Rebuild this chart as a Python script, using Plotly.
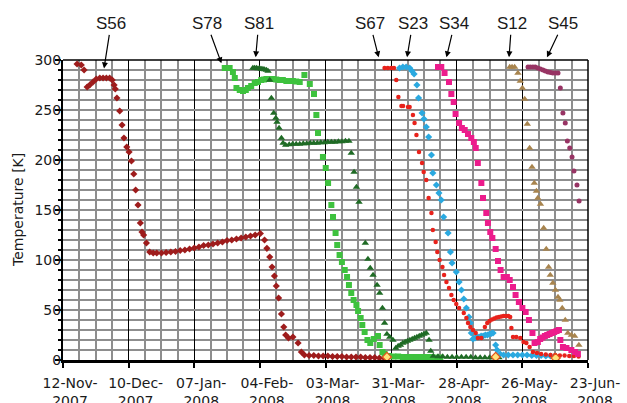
import pandas as pd
import plotly.graph_objects as go

BASE = pd.Timestamp("2007-11-12")

# ---- data: day offsets from 12-Nov-2007 and temperatures [K] ----
s56_days = [6, 7.8, 9, 10.3, 11.4, 12.8, 14.2, 15.7, 17.1, 18.5,
            19.9, 21, 21.8, 22.3, 23, 24.2, 25.2, 26, 27.2, 28.2,
            29.2, 30.2, 31, 32, 33, 33.7, 34.4, 35.6, 37, 38.5,
            40, 42, 44, 46, 48, 50, 52, 54, 56, 58,
            60, 62, 64, 66, 68, 70, 72, 74, 76, 78,
            80, 82, 84.2, 86, 87, 88.2, 89.2, 90.2, 91, 92,
            93.2, 94.2, 95, 96.2, 98.1, 100.3, 101.7, 103, 105, 107,
            109, 111, 113, 115, 117, 119, 121, 123, 125, 127,
            129, 131, 133, 135, 137]
s56_temp = [296, 295, 290, 273, 275, 278, 281, 282, 282, 282,
            282, 280, 275, 271, 262, 249, 235, 222, 213, 208,
            199, 186, 170, 155, 137, 128, 125, 117, 108, 107,
            107, 107, 107.5, 108, 108.5, 109.5, 110, 111, 112, 113,
            114.5, 115, 116, 117, 118, 119.5, 120, 121, 122, 123,
            124, 125, 126.5, 120, 111.7, 103, 93, 84, 74, 62,
            46, 33, 25, 22, 23, 17, 8, 5, 4.5, 4.5,
            4, 4, 4, 3.5, 3.5, 3.5, 3, 3, 3, 3,
            2.5, 2.5, 2.5, 2, 2]

s78_days = [69, 70, 71.1, 72.5, 73.3, 74, 75.4, 76.8, 78, 78.9,
            80.3, 81.8, 83.2, 84.6, 85.7, 86.8, 88.2, 89.6, 91, 92.4,
            93.8, 95.3, 96.7, 98.1, 99.5, 101, 103, 105.3, 107.1, 108.1,
            108.8, 110.9, 112.1, 113.1, 114.5, 115.2, 116.3, 117, 118, 119,
            120.2, 121.2, 122, 123, 124, 125.2, 125.9, 127, 127.7, 128.7,
            129.9, 131.1, 132.6, 134.4, 135.1, 136.3, 137.2, 139, 141, 143,
            145, 147, 149, 151, 153, 155, 157, 159, 161]
s78_temp = [292, 292, 292, 288, 282, 272, 270, 269, 270, 272,
            274, 277, 278, 280, 280.5, 281, 281, 281, 280.5, 280,
            280, 279, 279, 279, 278.5, 278, 285, 276, 266, 245,
            227, 203, 192, 177, 155, 143, 127, 115, 105, 98,
            90, 83, 75, 67, 60, 55, 49, 42, 35, 28,
            20, 17, 21, 24, 15, 8, 6, 4, 3.5, 3.5,
            3, 3, 3, 3, 3, 3, 3, 2.5, 2.5]

s81_days = [81, 81.7, 82.5, 83.2, 83.9, 84.6, 85.3, 86, 86.8, 87.5,
            88.2, 88.9, 89.9, 90.8, 91.3, 92.2, 93.2, 93.9, 95, 96.5,
            98, 99.5, 101, 102.5, 104, 105.5, 107, 108.5, 110, 111.5,
            113, 114.5, 116, 117.5, 119, 120.5, 122, 123, 124.2, 125.2,
            126.3, 129, 130.1, 131.1, 132.3, 134, 135.1, 136.3, 137.2, 138.2,
            139.4, 140.8, 142, 143, 144, 145, 146, 147, 148, 149,
            150, 151, 152, 153, 154, 155, 156.2, 156.9, 158, 160,
            162, 164, 166, 168, 170, 172, 174, 176, 178, 180,
            182, 184, 186]
s81_temp = [292, 292, 292, 291.5, 291.7, 291, 291, 290.5, 290, 289,
            280, 262, 247, 242, 238, 232, 222, 217, 215, 215.5,
            216, 216, 216, 216.5, 216.5, 217, 217, 217, 217.5, 217.5,
            218, 218, 218, 218.5, 218.5, 219, 219, 207, 188, 173,
            158, 117, 101, 92, 85, 75, 67, 52, 37, 26,
            23, 20, 12, 14, 15, 17, 18, 19, 20, 21,
            22, 23, 24, 25, 26, 27, 20, 9, 4, 3.5,
            3.5, 3, 3, 3, 3, 3, 3, 2.5, 2.5, 2.5,
            2.5, 2.5, 2.5]

s67_days = [137.2, 138.6, 140, 141.2, 142.2, 143.1, 144.4, 145.1, 147.2, 147.9,
            149.3, 150, 150.8, 151.9, 153.2, 153.9, 155, 156, 157.2, 157.8,
            159, 159.7, 160.7, 161.9, 162.6, 163.6, 164.7, 165.7, 166.7, 167.8,
            169, 171, 172.1, 172.8, 173.8, 174.9, 176.1, 177, 178.5, 180,
            181, 182, 183, 184, 185, 186, 187, 188, 189, 190,
            190.8, 191.3, 192, 193.4, 195.1, 196.5, 197.7, 199.1, 200.5, 202.2,
            204, 206, 208, 210, 212, 214, 216, 218, 220]
s67_temp = [292, 292, 292, 292, 280, 263, 254, 254, 253, 253,
            245, 237, 225, 208, 197, 188, 180, 162, 147, 130,
            118, 108, 100, 93, 85, 78, 72, 65, 60, 56,
            52, 47, 42, 37, 33, 30, 27, 22, 22, 33,
            37, 39, 40.5, 41.5, 42.5, 43, 43.5, 44, 44, 44,
            43, 32, 23, 23, 22, 18, 17, 13, 8, 7,
            6, 5.5, 5, 5, 4.5, 4.5, 4, 4, 3.5]

s23_days = [143.6, 145, 146.4, 147.9, 148.9, 149.8, 151, 151.7, 153.2, 154,
            155, 156, 157.2, 157.8, 159.3, 160.4, 161.4, 162.4, 164.3, 165.3,
            166, 167.8, 169, 170, 171, 172.1, 173.2, 173.8, 174.2, 174.9,
            175.8, 176.6, 177.5, 178.4, 179.3, 180.2, 181.1, 182, 182.8, 183.5,
            184.6, 185.2, 186.5, 188, 190, 192, 194, 196, 198, 200,
            202, 204, 206, 208, 210]
s23_temp = [292, 293, 293, 292, 289, 286, 275, 262, 247, 241,
            233, 223, 205, 187, 175, 167, 160, 143, 127, 108,
            97, 88, 78, 70, 61, 52, 43, 37, 27, 21,
            22, 23, 23, 24, 24, 25, 25, 26, 26.5, 27,
            15, 10, 6, 5, 5, 5, 5, 5, 5, 4.5,
            4.5, 4.5, 4, 4, 4]

s34_days = [160, 161.4, 162.8, 164.7, 165.7, 166.7, 167.5, 169, 170.2, 171.4,
            172.8, 174.2, 175.3, 176.1, 177, 178.5, 179.2, 180.6, 181.3, 182.3,
            183.2, 184.6, 185.6, 186.7, 188, 189.4, 190.6, 192, 193.1, 194.5,
            196, 197.4, 198.8, 200.3, 201.2, 202.6, 203.6, 204.6, 205.6, 206.6,
            207.6, 208.6, 209.6, 210.6, 211.6, 212.2, 213.3, 214.8, 216.9, 218.5,
            219.7]
s34_temp = [293, 293, 287, 278, 266, 258, 246, 237, 232, 230,
            226, 222, 218, 212, 197, 177, 162, 147, 137, 128,
            122, 111, 99, 90, 83, 83, 80, 73, 65, 58,
            52, 48, 40, 27, 17, 18, 21, 22.5, 24, 25,
            26, 27, 28, 29, 30, 20, 13, 12, 10, 8,
            6]

s12_days = [190.6, 191.6, 192.7, 194.1, 195.1, 196, 197, 198.1, 199.1, 200.1,
            201.1, 202, 202.6, 203.7, 205.1, 206.2, 207.2, 207.9, 209, 210.1,
            211.2, 212, 213, 214.3, 215.4, 216.9, 218.3, 220.1]
s12_temp = [293, 293, 293, 287, 279, 272, 261, 236, 212, 193,
            177, 169, 162, 156, 132, 111, 93, 85, 77, 70,
            63, 60, 52, 40, 27, 25, 24, 15]

s45_days = [198.4, 199.4, 200.5, 201.5, 202.6, 203.7, 204.8, 205.8, 206.9, 208,
            209, 210.1, 211.2, 212.2, 213.3, 214.3, 215.2, 216.2, 217.2, 218,
            219.3, 220.2]
s45_temp = [293, 293, 293, 293, 292, 291, 290, 289, 288, 287.5,
            287, 287, 287, 272, 247, 237, 219, 212, 203, 189,
            175, 159]

mark_days = [138.2, 184.6, 210.2]
mark_temp = [3, 3, 2]

label_names = ["S56", "S78", "S81", "S67", "S23", "S34", "S12", "S45"]
label_days = [17.5, 67.6, 82.2, 134.7, 146.8, 163.6, 190.3, 206.5]

x_start, x_end = "2007-11-12", "2008-06-23"


def to_dates(days):
    return [BASE + pd.Timedelta(days=float(d)) for d in days]


series = [
    ("S56", s56_days, s56_temp, "diamond", 5.5, "#9E1C1C"),
    ("S78", s78_days, s78_temp, "square", 6, "#3EC23E"),
    ("S81", s81_days, s81_temp, "triangle-up", 6.5, "#1F6B25"),
    ("S23", s23_days, s23_temp, "diamond", 5.5, "#2AA9E0"),
    ("S67", s67_days, s67_temp, "circle", 4.5, "#E8221B"),
    ("S34", s34_days, s34_temp, "square", 6, "#EC1C8C"),
    ("S12", s12_days, s12_temp, "triangle-up", 6.5, "#A8844E"),
    ("S45", s45_days, s45_temp, "circle", 5, "#983464"),
]

fig = go.Figure()
for name, d, t, sym, size, col in series:
    fig.add_trace(go.Scatter(
        x=to_dates(d), y=t, mode="markers", name=name,
        marker=dict(symbol=sym, size=size, color=col, line=dict(width=0)),
        showlegend=False))

fig.add_trace(go.Scatter(
    x=to_dates(mark_days), y=mark_temp, mode="markers", showlegend=False,
    marker=dict(symbol="diamond", size=7, color="#FFE27A",
                line=dict(width=1.2, color="#E2541C"))))

day_ms = 86400000
fig.update_xaxes(
    type="date", range=[x_start, x_end], automargin=False,
    tickmode="linear", tick0=x_start, dtick=28 * day_ms,
    tickformat="%d-%b-<br>%Y",
    ticks="outside", ticklen=5, tickwidth=2, tickcolor="black",
    showline=True, linewidth=3, linecolor="black",
    showgrid=True, gridcolor="black", gridwidth=1.3,
    minor=dict(tick0=x_start, dtick=7 * day_ms, showgrid=True,
               gridcolor="#8E8E8E", gridwidth=1.5),
    tickfont=dict(family="DejaVu Sans", size=14, color="#1a1a1a"),
    ticklabelshift=7, ticklabelstandoff=3,
    zeroline=False,
)
fig.update_yaxes(
    range=[0, 300], automargin=False,
    tickmode="linear", tick0=0, dtick=50,
    ticks="outside", ticklen=6, tickwidth=2, tickcolor="black",
    showline=True, linewidth=2, linecolor="black",
    showgrid=True, gridcolor="#8E8E8E", gridwidth=1.5,
    minor=dict(dtick=10, showgrid=True, gridcolor="#8E8E8E", gridwidth=1.5,
               ticks="outside", ticklen=3, tickwidth=2, tickcolor="black"),
    tickfont=dict(family="DejaVu Sans", size=14, color="#1a1a1a"),
    ticklabelstandoff=-9,
    zeroline=False,
)

annotations = [dict(
    text="Temperature [K]", xref="paper", yref="paper", x=-0.0857, y=0.5,
    textangle=-90, showarrow=False, xanchor="center", yanchor="middle",
    font=dict(family="DejaVu Sans", size=14, color="#1a1a1a"))]

tip_y = [0.972, 0.989, 1.009, 1.009, 1.009, 1.009, 1.009, 1.009]
off_x = [7, -14.5, 3, -8.5, 5.5, 8, 2.5, 16]
off_y = [-44.5, -39.5, -33.5, -33.5, -33.5, -33.5, -33.5, -33.5]
for nm, dd, ty, ox, oy in zip(label_names, label_days, tip_y, off_x, off_y):
    annotations.append(dict(
        text=nm, x=BASE + pd.Timedelta(days=dd), y=ty, xref="x", yref="paper",
        ax=ox, ay=oy, showarrow=True, arrowhead=2, arrowsize=1, arrowwidth=1.2,
        arrowcolor="black",
        font=dict(family="Liberation Sans", size=17, color="#1a1a1a")))

fig.update_layout(
    width=627, height=403,
    margin=dict(l=63, r=39, t=60, b=43),
    paper_bgcolor="white", plot_bgcolor="white",
    annotations=annotations,
    shapes=[
        dict(type="line", xref="paper", yref="paper", x0=0, x1=1, y0=1, y1=1,
             line=dict(color="black", width=1.5)),
        dict(type="line", xref="paper", yref="paper", x0=1, x1=1, y0=0, y1=1,
             line=dict(color="black", width=1.5)),
    ],
)

fig.write_html("out.html")
